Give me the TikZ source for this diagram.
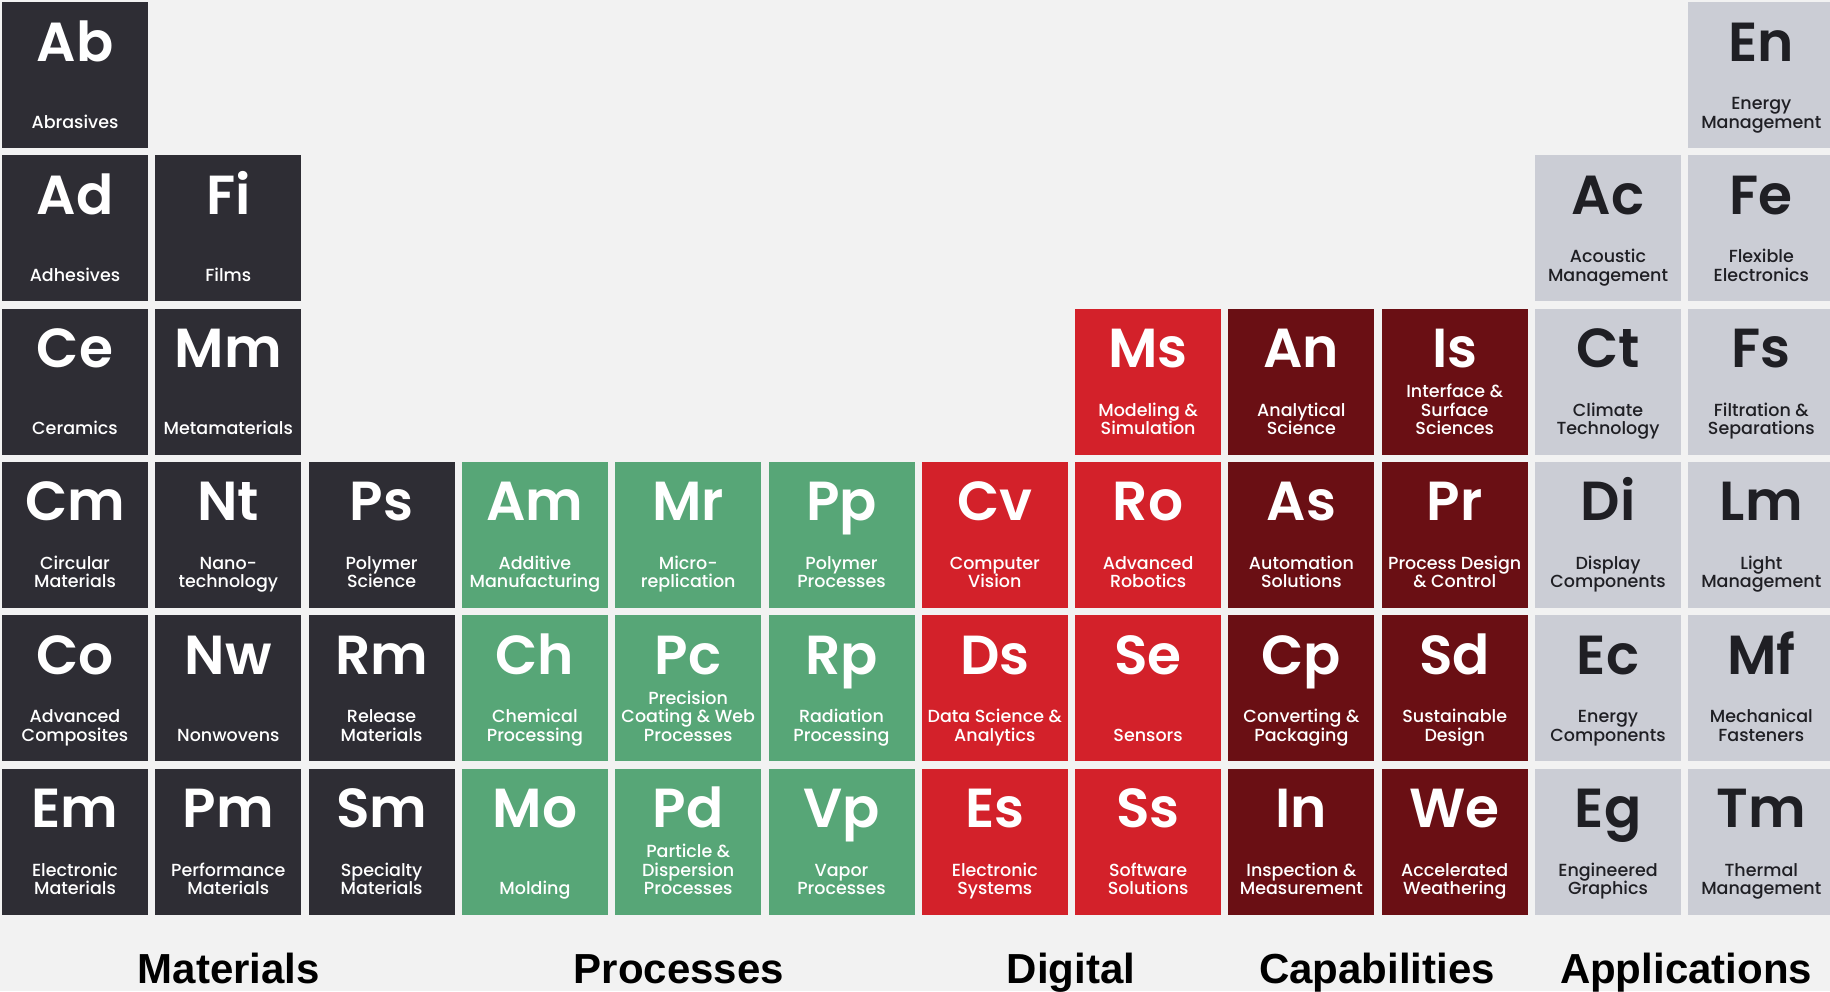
\documentclass[tikz,border=0pt]{standalone}
\usepackage{fontspec}
\setmainfont{Poppins}
\newfontfamily\symfont{Poppins SemiBold}
\newfontfamily\subfont{Poppins Medium}
\newfontfamily\labelfont{Liberation Sans}
\definecolor{bgc}{HTML}{F2F2F2}
\definecolor{matc}{HTML}{2E2D34}
\definecolor{proc}{HTML}{57A677}
\definecolor{digc}{HTML}{D3212A}
\definecolor{capc}{HTML}{6A0F14}
\definecolor{appc}{HTML}{CBCDD5}
\definecolor{apptext}{HTML}{1F1F24}
\newcommand\subtxt[1]{\vbox{\baselineskip=18.5pt\lineskiplimit=-100pt\let\\\cr\halign{\hfil##\hfil\cr#1\crcr}}}
\tikzset{
  cellbox/.style={draw=none, minimum width=146pt, minimum height=146pt, inner sep=0pt, outer sep=0pt, anchor=north west},
  symb/.style={anchor=base, inner sep=0pt, font=\symfont\fontsize{55}{55}\selectfont},
  subt/.style={anchor=base, inner sep=0pt, font=\subfont\fontsize{17.5}{18.5}\selectfont},
  catlabel/.style={anchor=base, inner sep=0pt, font=\labelfont\bfseries\fontsize{42}{42}\selectfont, text=black}
}
% #1 col, #2 row, #3 fill, #4 text colour, #5 symbol, #6 name
\newcommand\elem[6]{%
  \node[cellbox, fill=#3] (c#1r#2) at ({2+153.3*#1},{2+153.3*#2}) {};
  \node[symb, text=#4] (s#1r#2) at ([yshift=-59pt]c#1r#2.north) {#5};
  \node[subt, text=#4] (t#1r#2) at ([yshift=-126pt]c#1r#2.north) {\subtxt{#6}};
}
\begin{document}
\begin{tikzpicture}[x=1pt,y=-1pt]
\useasboundingbox (0,0) rectangle (1830,991);
\fill[bgc] (0,0) rectangle (1830,991);
% Materials
\elem{0}{0}{matc}{white}{Ab}{Abrasives}
\elem{0}{1}{matc}{white}{Ad}{Adhesives}
\elem{0}{2}{matc}{white}{Ce}{Ceramics}
\elem{0}{3}{matc}{white}{Cm}{Circular\\Materials}
\elem{0}{4}{matc}{white}{Co}{Advanced\\Composites}
\elem{0}{5}{matc}{white}{Em}{Electronic\\Materials}
\elem{1}{1}{matc}{white}{Fi}{Films}
\elem{1}{2}{matc}{white}{Mm}{Metamaterials}
\elem{1}{3}{matc}{white}{Nt}{Nano-\\technology}
\elem{1}{4}{matc}{white}{Nw}{Nonwovens}
\elem{1}{5}{matc}{white}{Pm}{Performance\\Materials}
\elem{2}{3}{matc}{white}{Ps}{Polymer\\Science}
\elem{2}{4}{matc}{white}{Rm}{Release\\Materials}
\elem{2}{5}{matc}{white}{Sm}{Specialty\\Materials}
% Processes
\elem{3}{3}{proc}{white}{Am}{Additive\\Manufacturing}
\elem{3}{4}{proc}{white}{Ch}{Chemical\\Processing}
\elem{3}{5}{proc}{white}{Mo}{Molding}
\elem{4}{3}{proc}{white}{Mr}{Micro-\\replication}
\elem{4}{4}{proc}{white}{Pc}{Precision\\Coating \& Web\\Processes}
\elem{4}{5}{proc}{white}{Pd}{Particle \&\\Dispersion\\Processes}
\elem{5}{3}{proc}{white}{Pp}{Polymer\\Processes}
\elem{5}{4}{proc}{white}{Rp}{Radiation\\Processing}
\elem{5}{5}{proc}{white}{Vp}{Vapor\\Processes}
% Digital
\elem{6}{3}{digc}{white}{Cv}{Computer\\Vision}
\elem{6}{4}{digc}{white}{Ds}{Data Science \&\\Analytics}
\elem{6}{5}{digc}{white}{Es}{Electronic\\Systems}
\elem{7}{2}{digc}{white}{Ms}{Modeling \&\\Simulation}
\elem{7}{3}{digc}{white}{Ro}{Advanced\\Robotics}
\elem{7}{4}{digc}{white}{Se}{Sensors}
\elem{7}{5}{digc}{white}{Ss}{Software\\Solutions}
% Capabilities
\elem{8}{2}{capc}{white}{An}{Analytical\\Science}
\elem{8}{3}{capc}{white}{As}{Automation\\Solutions}
\elem{8}{4}{capc}{white}{Cp}{Converting \&\\Packaging}
\elem{8}{5}{capc}{white}{In}{Inspection \&\\Measurement}
\elem{9}{2}{capc}{white}{Is}{Interface \&\\Surface\\Sciences}
\elem{9}{3}{capc}{white}{Pr}{Process Design\\\& Control}
\elem{9}{4}{capc}{white}{Sd}{Sustainable\\Design}
\elem{9}{5}{capc}{white}{We}{Accelerated\\Weathering}
% Applications
\elem{10}{1}{appc}{apptext}{Ac}{Acoustic\\Management}
\elem{10}{2}{appc}{apptext}{Ct}{Climate\\Technology}
\elem{10}{3}{appc}{apptext}{Di}{Display\\Components}
\elem{10}{4}{appc}{apptext}{Ec}{Energy\\Components}
\elem{10}{5}{appc}{apptext}{Eg}{Engineered\\Graphics}
\elem{11}{0}{appc}{apptext}{En}{Energy\\Management}
\elem{11}{1}{appc}{apptext}{Fe}{Flexible\\Electronics}
\elem{11}{2}{appc}{apptext}{Fs}{Filtration \&\\Separations}
\elem{11}{3}{appc}{apptext}{Lm}{Light\\Management}
\elem{11}{4}{appc}{apptext}{Mf}{Mechanical\\Fasteners}
\elem{11}{5}{appc}{apptext}{Tm}{Thermal\\Management}
% category labels
\node[catlabel] (lmat) at (229,983) {Materials};
\node[catlabel] (lproc) at (679,983) {Processes};
\node[catlabel] (ldig) at (1071,983) {Digital};
\node[catlabel] (lcap) at (1377,983) {Capabilities};
\node[catlabel] (lapp) at (1686,983) {Applications};
\end{tikzpicture}
\end{document}
